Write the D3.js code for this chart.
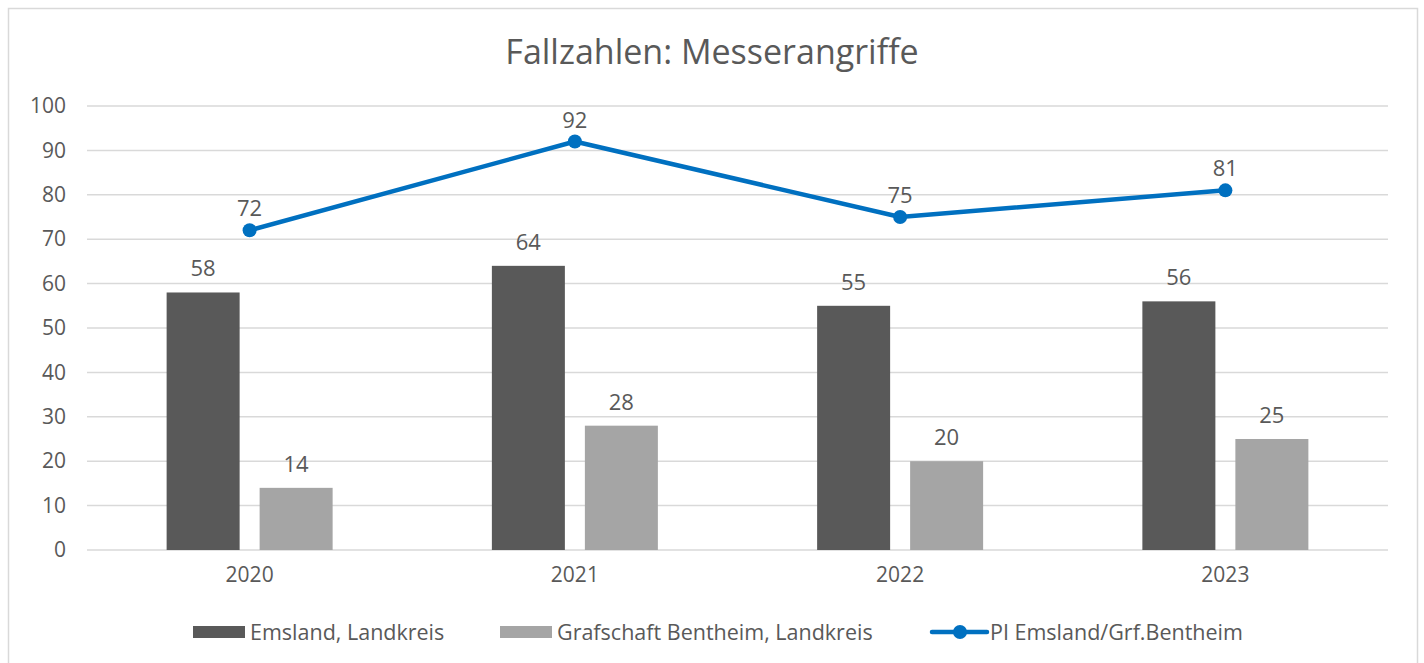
<!DOCTYPE html>
<html>
<head>
<meta charset="utf-8">
<script src="https://cdn.jsdelivr.net/npm/d3@7"></script>
<style>
  body { margin: 0; background: #fff; }
  svg text { font-family: "Open Sans", "Noto Sans", sans-serif; fill: #595959; }
</style>
</head>
<body>
<svg width="1424" height="663"></svg>
<script>
// chart data
const years = ["2020", "2021", "2022", "2023"];
const emsland = [58, 64, 55, 56];
const grafschaft = [14, 28, 20, 25];
const piTotal = [72, 92, 75, 81];
const yTicks = [0, 10, 20, 30, 40, 50, 60, 70, 80, 90, 100];
const seriesNames = ["Emsland, Landkreis", "Grafschaft Bentheim, Landkreis", "PI Emsland/Grf.Bentheim"];

const colors = { dark: "#595959", light: "#a5a5a5", line: "#0070c0", grid: "#d9d9d9" };

const svg = d3.select("svg");

// outer chart border
svg.append("rect")
    .attr("x", 8.5).attr("y", 8.5)
    .attr("width", 1409).attr("height", 660)
    .attr("fill", "none")
    .attr("stroke", colors.grid)
    .attr("stroke-width", 1.5);

const plot = { left: 87, right: 1388, top: 106, bottom: 550 };

const xScale = d3.scaleBand()
    .domain(years)
    .range([plot.left, plot.right]);

const yScale = d3.scaleLinear()
    .domain([0, 100])
    .range([plot.bottom, plot.top]);

const barW = 73, barGap = 20;

// title
svg.append("text")
    .attr("x", 712).attr("y", 64)
    .attr("text-anchor", "middle")
    .style("font-size", "34px")
    .text("Fallzahlen: Messerangriffe");

// gridlines
svg.append("g")
    .selectAll("line")
    .data(yTicks)
    .enter()
    .append("line")
    .attr("x1", plot.left).attr("x2", plot.right)
    .attr("y1", d => yScale(d)).attr("y2", d => yScale(d))
    .attr("stroke", colors.grid)
    .attr("stroke-width", 1.5);

// y axis labels
const yAxis = svg.append("g")
    .attr("transform", `translate(${plot.left - 21},0)`)
    .call(d3.axisLeft(yScale).tickValues(yTicks).tickSize(0).tickPadding(0));
yAxis.select(".domain").remove();
yAxis.selectAll("text")
    .style("font-size", "21px")
    .attr("fill", "#595959")
    .style("font-family", "'Open Sans', 'Noto Sans', sans-serif");

// x axis labels
const xAxis = svg.append("g")
    .attr("transform", `translate(0,${plot.bottom + 13})`)
    .call(d3.axisBottom(xScale).tickSize(0).tickPadding(0));
xAxis.select(".domain").remove();
xAxis.selectAll("text")
    .style("font-size", "21px")
    .attr("fill", "#595959")
    .attr("dy", "0.9em")
    .style("font-family", "'Open Sans', 'Noto Sans', sans-serif");

const center = y => xScale(y) + xScale.bandwidth() / 2;

// bars
function drawBars(values, offset, color) {
    const g = svg.append("g");
    g.selectAll("rect")
        .data(values)
        .enter()
        .append("rect")
        .attr("x", (d, i) => center(years[i]) + offset)
        .attr("y", d => yScale(d))
        .attr("width", barW)
        .attr("height", d => yScale(0) - yScale(d))
        .attr("fill", color);
    g.selectAll("text")
        .data(values)
        .enter()
        .append("text")
        .attr("x", (d, i) => center(years[i]) + offset + barW / 2)
        .attr("y", d => yScale(d) - 16)
        .attr("text-anchor", "middle")
        .style("font-size", "22px")
        .text(d => d);
}
drawBars(emsland, -barGap / 2 - barW, colors.dark);
drawBars(grafschaft, barGap / 2, colors.light);

// line series
const line = d3.line()
    .x((d, i) => center(years[i]))
    .y(d => yScale(d));

svg.append("path")
    .datum(piTotal)
    .attr("fill", "none")
    .attr("stroke", colors.line)
    .attr("stroke-width", 4.5)
    .attr("stroke-linejoin", "round")
    .attr("d", line);

svg.append("g")
    .selectAll("circle")
    .data(piTotal)
    .enter()
    .append("circle")
    .attr("cx", (d, i) => center(years[i]))
    .attr("cy", d => yScale(d))
    .attr("r", 7)
    .attr("fill", colors.line);

svg.append("g")
    .selectAll("text")
    .data(piTotal)
    .enter()
    .append("text")
    .attr("x", (d, i) => center(years[i]))
    .attr("y", d => yScale(d) - 14)
    .attr("text-anchor", "middle")
    .style("font-size", "22px")
    .text(d => d);

// legend
const legendY = 632;
const legend = svg.append("g");
legend.append("rect").attr("x", 193).attr("y", legendY - 6).attr("width", 52).attr("height", 12).attr("fill", colors.dark);
legend.append("text").attr("x", 250).attr("y", legendY + 8).style("font-size", "21.5px").text(seriesNames[0]);
legend.append("rect").attr("x", 500).attr("y", legendY - 6).attr("width", 52).attr("height", 12).attr("fill", colors.light);
legend.append("text").attr("x", 557).attr("y", legendY + 8).style("font-size", "21.5px").text(seriesNames[1]);
legend.append("line").attr("x1", 932).attr("x2", 987).attr("y1", legendY).attr("y2", legendY)
    .attr("stroke", colors.line).attr("stroke-width", 4.5).attr("stroke-linecap", "round");
legend.append("circle").attr("cx", 960).attr("cy", legendY).attr("r", 7).attr("fill", colors.line);
legend.append("text").attr("x", 990).attr("y", legendY + 8).style("font-size", "21.5px").text(seriesNames[2]);
</script>
</body>
</html>
